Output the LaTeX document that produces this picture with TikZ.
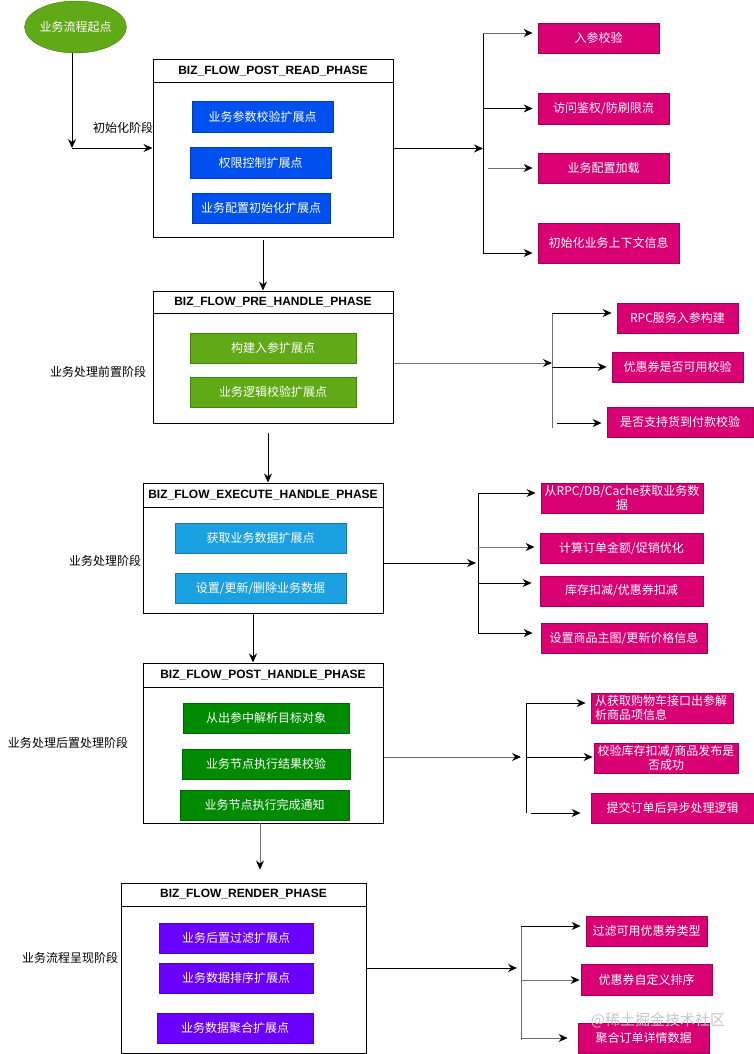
\documentclass[tikz,border=0pt]{standalone}
\usepackage{fontspec}
\setmainfont{Liberation Sans}
\newfontfamily\cjk{Noto Sans CJK SC}
\newfontfamily\titlefont{Liberation Sans}
\usetikzlibrary{arrows.meta,shapes.geometric}
\definecolor{pinkbox}{HTML}{D80073}
\definecolor{bluedeep}{HTML}{0050EF}
\definecolor{bluesky}{HTML}{1BA1E2}
\definecolor{greenlight}{HTML}{60A917}
\definecolor{greendark}{HTML}{008A00}
\definecolor{violetbox}{HTML}{6A00FF}
\definecolor{linegray}{HTML}{6E6E6E}

\begin{document}
\begin{tikzpicture}[x=1pt,y=-1pt,
	box/.style={rectangle,minimum height=30pt,inner sep=0pt,text=white,font=\cjk\fontsize{12pt}{14pt}\selectfont},
	ext/.style={box,fill=#1,draw=#1!75!black,line width=0.8pt},
	phase/.style={draw,line width=1pt,inner sep=0pt},
	ptitle/.style={draw,line width=1pt,anchor=north,inner sep=0pt,font=\titlefont\bfseries\fontsize{12pt}{14pt}\selectfont},
	lbl/.style={font=\cjk\fontsize{12pt}{14pt}\selectfont},
	arr/.style={line width=0.9pt,-{Stealth[length=9pt,width=8pt,inset=3pt,color=black]}},
	br/.style={arr,shorten >=5pt},
	grayline/.style={draw=linegray}]
	\useasboundingbox (0,0) rectangle (754,1054);
			 \node[ellipse,fill=greenlight,draw=greenlight!70!black,minimum width=75pt,minimum height=52pt,inner sep=0pt,text=white,font=\cjk\fontsize{12pt}{14pt}\selectfont] (start)at(75.5,27) {业务流程起点};
			 \node[phase,minimum width=240pt,minimum height=177pt] (read)at(273,148.5) {};
			 \node[ptitle,minimum width=240pt,minimum height=23pt] (readT)at(read.north) {BIZ\_FLOW\_POST\_READ\_PHASE};
			 \node[ext=bluedeep,minimum width=141pt,minimum height=31pt] (pr1)at(262.5,116.5) {业务参数校验扩展点};
			 \node[ext=bluedeep,minimum width=141pt,minimum height=31pt] (pr2)at(260.5,162.5) {权限控制扩展点};
			 \node[ext=bluedeep,minimum width=138pt] (pr3)at(261,208) {业务配置初始化扩展点};
			 \node[ext=pinkbox,minimum width=121pt] (ra)at(598.5,38) {入参校验};
			 \node[ext=pinkbox,minimum width=131pt,minimum height=31pt] (rb)at(603.5,108.5) {访问鉴权/防刷限流};
			 \node[ext=pinkbox,minimum width=131pt] (rc)at(603.5,168) {业务配置加载};
			 \node[ext=pinkbox,minimum width=141pt,minimum height=40pt] (rd)at(608.5,243) {初始化业务上下文信息};
			 \node[lbl] (l1)at(123,128) {初始化阶段};
			 \node[phase,minimum width=240pt,minimum height=132pt] (pre)at(273,357) {};
			 \node[ptitle,minimum width=240pt,minimum height=22pt] (preT)at(pre.north) {BIZ\_FLOW\_PRE\_HANDLE\_PHASE};
			 \node[ext=greenlight,minimum width=166pt] (pp1)at(273,348) {构建入参扩展点};
			 \node[ext=greenlight,minimum width=166pt] (pp2)at(273,392) {业务逻辑校验扩展点};
			 \node[ext=pinkbox,minimum width=121pt] (rpa)at(677.5,318) {RPC服务入参构建};
			 \node[ext=pinkbox,minimum width=131pt] (rpb)at(677.5,367) {优惠券是否可用校验};
			 \node[ext=pinkbox,minimum width=146pt] (rpc)at(680,422) {是否支持货到付款校验};
			 \node[lbl] (l2)at(98,372) {业务处理前置阶段};
			 \node[phase,minimum width=240pt,minimum height=130pt] (exe)at(263,548) {};
			 \node[ptitle,minimum width=240pt,minimum height=24pt] (exeT)at(exe.north) {BIZ\_FLOW\_EXECUTE\_HANDLE\_PHASE};
			 \node[ext=bluesky,minimum width=171pt] (pe1)at(260.5,538) {获取业务数据扩展点};
			 \node[ext=bluesky,minimum width=171pt] (pe2)at(260.5,588) {设置/更新/删除业务数据};
			 \node[ext=pinkbox,minimum width=162pt,align=center] (rea)at(622,498) {从RPC/DB/Cache获取业务数\\据};
			 \node[ext=pinkbox,minimum width=163pt] (reb)at(621.5,548) {计算订单金额/促销优化};
			 \node[ext=pinkbox,minimum width=163pt] (rec)at(621.5,591) {库存扣减/优惠券扣减};
			 \node[ext=pinkbox,minimum width=166pt] (red)at(624,638) {设置商品主图/更新价格信息};
			 \node[lbl] (l3)at(105,561) {业务处理阶段};
			 \node[phase,minimum width=240pt,minimum height=160pt] (post)at(263,743) {};
			 \node[ptitle,minimum width=240pt,minimum height=24pt] (postT)at(post.north) {BIZ\_FLOW\_POST\_HANDLE\_PHASE};
			 \node[ext=greendark,minimum width=166pt] (po1)at(266,718) {从出参中解析目标对象};
			 \node[ext=greendark,minimum width=168pt] (po2)at(266,764) {业务节点执行结果校验};
			 \node[ext=greendark,minimum width=169pt] (po3)at(264.5,805) {业务节点执行完成通知};
			 \node[ext=pinkbox,minimum width=142pt,text width=134pt,align=left] (rpoa)at(662,708) {从获取购物车接口出参解\\析商品项信息};
			 \node[ext=pinkbox,minimum width=144pt,align=center] (rpob)at(666,758) {校验库存扣减/商品发布是\\否成功};
			 \node[ext=pinkbox,minimum width=163pt] (rpoc)at(672.5,808) {提交订单后异步处理逻辑};
			 \node[lbl] (l4)at(68,743) {业务处理后置处理阶段};
			 \node[phase,minimum width=245pt,minimum height=170pt] (ren)at(243.5,968) {};
			 \node[ptitle,minimum width=245pt,minimum height=23pt] (renT)at(ren.north) {BIZ\_FLOW\_RENDER\_PHASE};
			 \node[ext=violetbox,minimum width=154pt] (pn1)at(236,938) {业务后置过滤扩展点};
			 \node[ext=violetbox,minimum width=154pt] (pn2)at(236,978) {业务数据排序扩展点};
			 \node[ext=violetbox,minimum width=156pt] (pn3)at(235,1028) {业务数据聚合扩展点};
			 \node[ext=pinkbox,minimum width=121pt] (rna)at(646.5,931) {过滤可用优惠券类型};
			 \node[ext=pinkbox,minimum width=131pt,minimum height=31pt] (rnb)at(646.5,979.5) {优惠券自定义排序};
			 \node[ext=pinkbox,minimum width=131pt] (rnc)at(643.5,1038) {聚合订单详情数据};
			 \node[lbl] (l5)at(70,958) {业务流程呈现阶段};
			 \coordinate (turn)at(72,148);
			 \coordinate (d1)at(263,240);
			 \coordinate (d2)at(268,433);
			 \coordinate (d3)at(253,613);
			 \coordinate (d4)at(260,823);
			 \coordinate (b1t)at(483,33);
			 \coordinate (b1b)at(483,253);
			 \coordinate (b1c)at(488,168);
			 \coordinate (b2t)at(552,313);
			 \coordinate (b2b)at(552,428);
			 \coordinate (b2m)at(552,363);
			 \coordinate (b2c)at(557,423);
			 \coordinate (b3t)at(478,493);
			 \coordinate (b3b)at(478,633);
			 \coordinate (b3m)at(478,563);
			 \coordinate (b3b2)at(478,547);
			 \coordinate (b3c)at(478,583);
			 \coordinate (b4t)at(526,703);
			 \coordinate (b4b)at(526,813);
			 \coordinate (b4m)at(526,757);
			 \coordinate (b4c)at(531,813);
			 \coordinate (b5t)at(521,926);
			 \coordinate (b5b)at(521,1040);
			 \coordinate (b5m)at(521,968);
			 \coordinate (b5b2)at(521,980);
			 \coordinate (b5c)at(521,1038);
			 \draw[arr] (start.south -| turn) -- (turn);
			 \draw[arr] (turn) -- (read.west |- turn);
			 \draw[arr] (d1) -- (d1 |- pre.north);
			 \draw[arr] (d2) -- (d2 |- exe.north);
			 \draw[arr] (d3) -- (d3 |- post.north);
			 \draw[arr,grayline,shorten >=13pt] (d4) -- (d4 |- ren.north);
			 \draw[line width=0.9pt] (b1t) -- (b1b);
			 \draw[arr] (read.east) -- (read.east -| b1t);
			 \draw[br,grayline] (b1t) -- (b1t -| ra.west);
			 \draw[br] (b1t |- rb.west) -- (rb.west);
			 \draw[br,grayline] (b1c) -- (b1c -| rc.west);
			 \draw[br] (b1b) -- (b1b -| rd.west);
			 \draw[line width=0.9pt,grayline] (b2t) -- (b2b);
			 \draw[arr,grayline] (b2m -| pre.east) -- (b2m);
			 \draw[br] (b2t) -- (b2t -| rpa.west);
			 \draw[br] (b2t |- rpb.west) -- (rpb.west);
			 \draw[br] (b2c) -- (b2c -| rpc.west);
			 \draw[line width=0.9pt] (b3t) -- (b3b);
			 \draw[arr,shorten >=2pt] (b3m -| exe.east) -- (b3m);
			 \draw[br] (b3t) -- (b3t -| rea.west);
			 \draw[br,grayline] (b3b2) -- (b3b2 -| reb.west);
			 \draw[br,shorten >=8pt] (b3c) -- (b3c -| rec.west);
			 \draw[br,shorten >=8pt] (b3b) -- (b3b -| red.west);
			 \draw[line width=0.9pt] (b4t) -- (b4b);
			 \draw[arr,grayline,shorten >=5pt] (b4m -| post.east) -- (b4m);
			 \draw[br] (b4t) -- (b4t -| rpoa.west);
			 \draw[br,shorten >=1pt] (b4m) -- (b4m -| rpob.west);
			 \draw[br,shorten >=10pt] (b4c) -- (b4c -| rpoc.west);
			 \draw[line width=0.9pt,grayline] (b5t) -- (b5b);
			 \draw[arr,shorten >=4pt] (ren.east |- b5m) -- (b5m);
			 \draw[br] (b5t) -- (b5t -| rna.west);
			 \draw[br,grayline,shorten >=1pt] (b5b2) -- (b5b2 -| rnb.west);
			 \draw[br,grayline,shorten >=10pt] (b5c) -- (b5c -| rnc.west);
			 \node[font=\cjk\fontsize{15pt}{17pt}\selectfont,text=gray!45] (mark)at(658,1020) {@稀土掘金技术社区};
		\end{tikzpicture}
\end{document}
